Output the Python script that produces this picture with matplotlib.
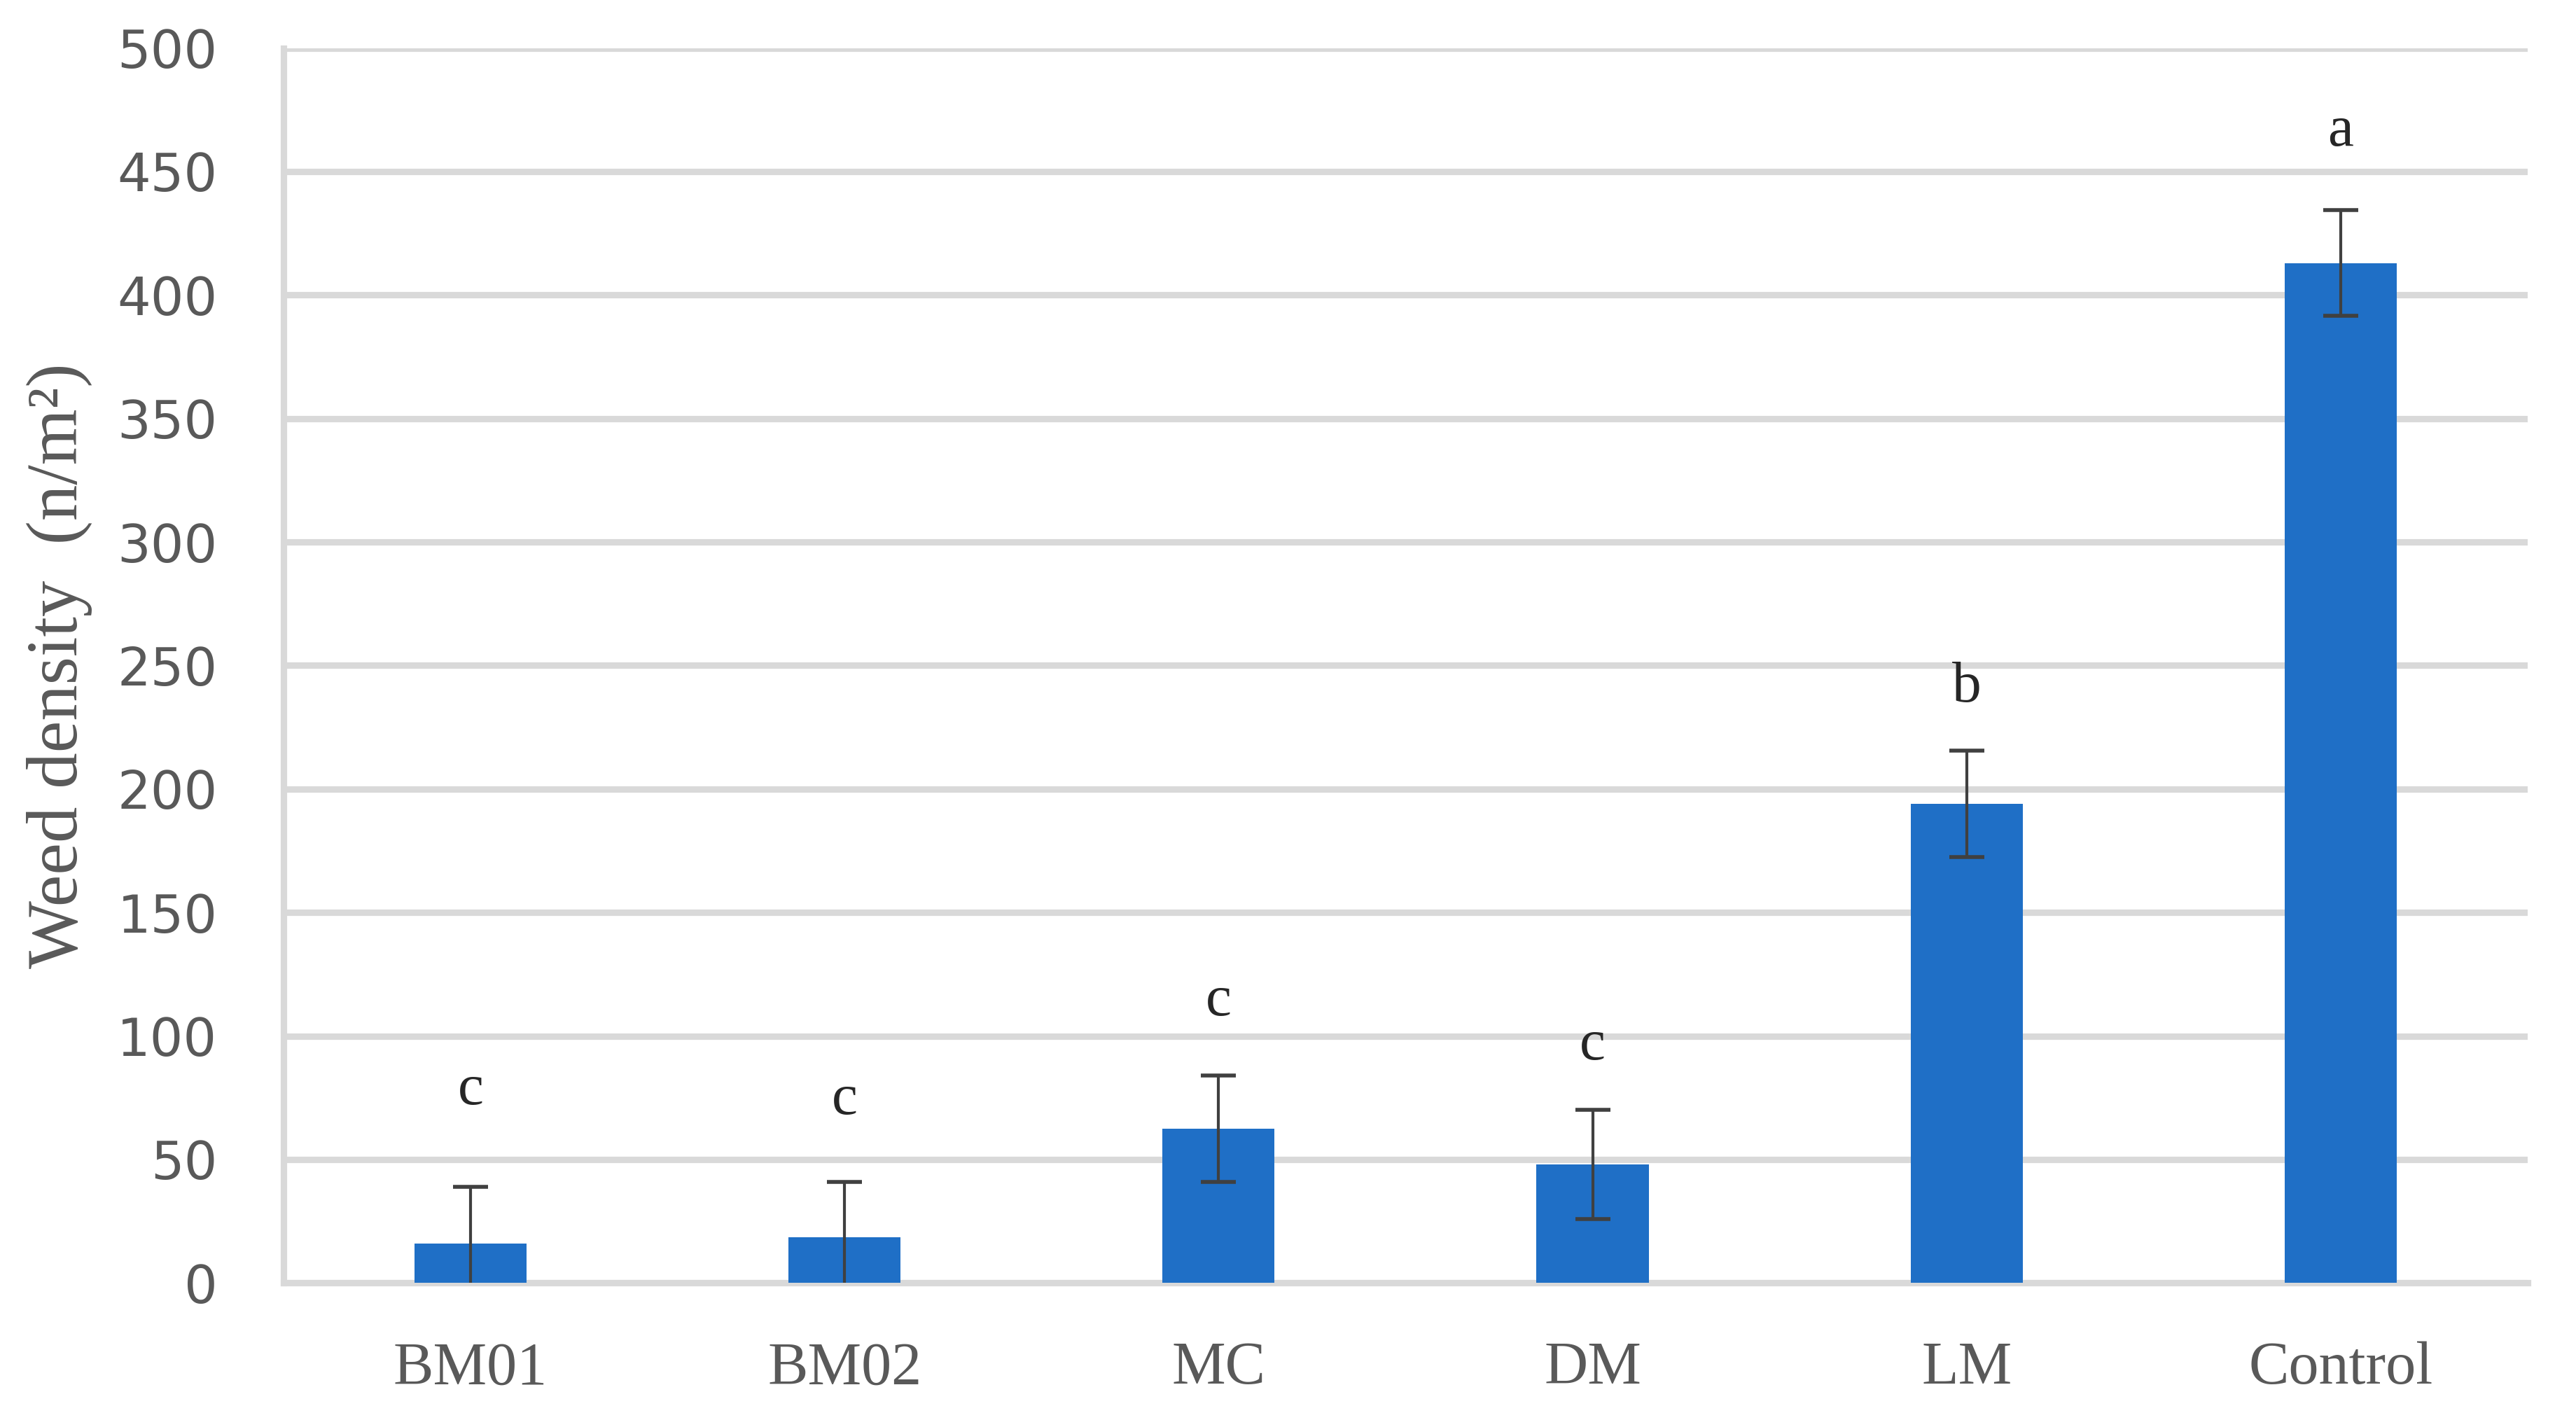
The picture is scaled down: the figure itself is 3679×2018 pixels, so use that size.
import matplotlib.pyplot as plt
import numpy as np

# values
treatments = ['BM01', 'BM02', 'MC', 'DM', 'LM', 'Control']
weed_density = [16, 18.5, 62.5, 48, 194, 413]
std_err = [23, 22.5, 21.5, 22, 21.5, 21.5]
letters = ['c', 'c', 'c', 'c', 'b', 'a']
letter_y = [78, 74, 114, 96, 241, 466]

bar_color = '#1f6fc6'
grid_color = '#d9d9d9'
text_gray = '#595959'

fig = plt.figure(figsize=(18.4, 10.09), dpi=200)
ax = fig.add_axes([0.110, 0.092, 0.871, 0.874])

x = np.arange(len(treatments))
ax.bar(x, weed_density, width=0.30, color=bar_color, zorder=3)
ax.errorbar(x, weed_density, yerr=std_err, fmt='none', ecolor='#404040',
            elinewidth=1.5, capsize=9, capthick=2.0, zorder=4)

for xi, lab, ly in zip(x, letters, letter_y):
    ax.text(xi, ly, lab, ha='center', va='center', fontsize=30,
            family='Liberation Serif', color='#262626')

ax.set_xlim(-0.5, len(treatments) - 0.5)
ax.set_ylim(0, 500)
ax.set_yticks(np.arange(0, 501, 50))
ax.yaxis.grid(True, color=grid_color, linewidth=3.3, zorder=0)
ax.set_axisbelow(True)

ax.set_xticks(x)
ax.set_xticklabels(treatments, family='Liberation Serif', fontsize=31, color=text_gray)
ax.tick_params(axis='x', length=0, pad=30)
ax.tick_params(axis='y', length=0, pad=34, labelsize=27, labelcolor=text_gray)

for side in ['top', 'right']:
    ax.spines[side].set_visible(False)
for side in ['left', 'bottom']:
    ax.spines[side].set_color(grid_color)
    ax.spines[side].set_linewidth(3.3)

ax.set_ylabel('Weed density  (n/m²)', family='Liberation Serif', fontsize=37,
              color=text_gray)
ax.yaxis.set_label_coords(-0.085, 0.5)

plt.savefig('out.png', dpi=200)
